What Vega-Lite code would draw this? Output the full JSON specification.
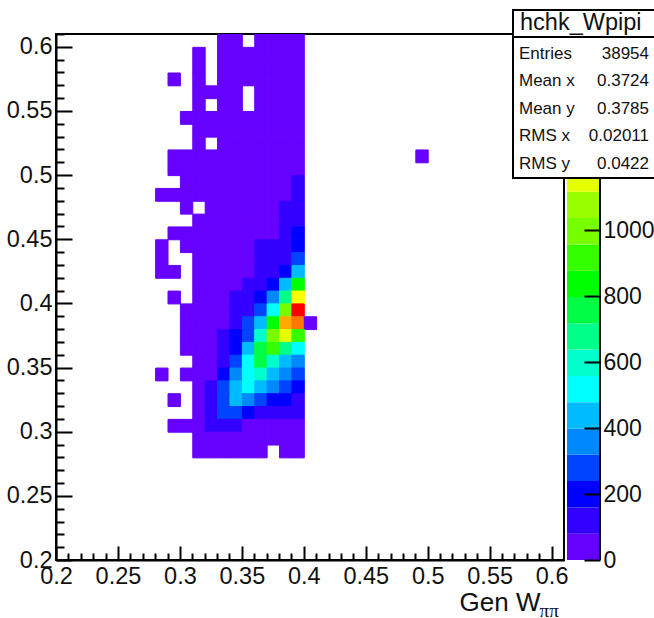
{"$schema":"https://vega.github.io/schema/vega-lite/v6.json","background":"white","padding":{"left":5,"top":9,"right":0,"bottom":0},"bounds":"flush","spacing":3,
"config":{"font":"Liberation Sans","axis":{"grid":false,"labelFont":"Liberation Sans","labelColor":"#111111","titleColor":"#111111"}},
"datasets":{
"cells":[
{"x":0.335,"y":0.605,"z":40},{"x":0.345,"y":0.605,"z":40},{"x":0.365,"y":0.605,"z":40},{"x":0.375,"y":0.605,"z":40},{"x":0.385,"y":0.605,"z":40},{"x":0.395,"y":0.605,"z":40},
{"x":0.315,"y":0.595,"z":40},{"x":0.335,"y":0.595,"z":40},{"x":0.345,"y":0.595,"z":40},{"x":0.355,"y":0.595,"z":40},{"x":0.365,"y":0.595,"z":40},{"x":0.375,"y":0.595,"z":40},{"x":0.385,"y":0.595,"z":40},{"x":0.395,"y":0.595,"z":40},
{"x":0.315,"y":0.585,"z":40},{"x":0.335,"y":0.585,"z":40},{"x":0.345,"y":0.585,"z":40},{"x":0.355,"y":0.585,"z":40},{"x":0.365,"y":0.585,"z":40},{"x":0.375,"y":0.585,"z":40},{"x":0.385,"y":0.585,"z":40},{"x":0.395,"y":0.585,"z":40},
{"x":0.295,"y":0.575,"z":40},{"x":0.315,"y":0.575,"z":40},{"x":0.335,"y":0.575,"z":40},{"x":0.345,"y":0.575,"z":40},{"x":0.355,"y":0.575,"z":40},{"x":0.365,"y":0.575,"z":40},{"x":0.375,"y":0.575,"z":40},{"x":0.385,"y":0.575,"z":40},{"x":0.395,"y":0.575,"z":40},
{"x":0.315,"y":0.565,"z":40},{"x":0.325,"y":0.565,"z":40},{"x":0.335,"y":0.565,"z":40},{"x":0.345,"y":0.565,"z":40},{"x":0.365,"y":0.565,"z":40},{"x":0.375,"y":0.565,"z":40},{"x":0.385,"y":0.565,"z":40},{"x":0.395,"y":0.565,"z":40},
{"x":0.315,"y":0.555,"z":40},{"x":0.335,"y":0.555,"z":40},{"x":0.345,"y":0.555,"z":40},{"x":0.365,"y":0.555,"z":40},{"x":0.375,"y":0.555,"z":40},{"x":0.385,"y":0.555,"z":40},{"x":0.395,"y":0.555,"z":40},
{"x":0.305,"y":0.545,"z":40},{"x":0.315,"y":0.545,"z":40},{"x":0.325,"y":0.545,"z":40},{"x":0.335,"y":0.545,"z":40},{"x":0.345,"y":0.545,"z":40},{"x":0.355,"y":0.545,"z":40},{"x":0.365,"y":0.545,"z":40},{"x":0.375,"y":0.545,"z":40},{"x":0.385,"y":0.545,"z":40},{"x":0.395,"y":0.545,"z":40},
{"x":0.315,"y":0.535,"z":40},{"x":0.325,"y":0.535,"z":40},{"x":0.335,"y":0.535,"z":40},{"x":0.345,"y":0.535,"z":40},{"x":0.355,"y":0.535,"z":40},{"x":0.365,"y":0.535,"z":40},{"x":0.375,"y":0.535,"z":40},{"x":0.385,"y":0.535,"z":40},{"x":0.395,"y":0.535,"z":40},
{"x":0.315,"y":0.525,"z":40},{"x":0.335,"y":0.525,"z":40},{"x":0.345,"y":0.525,"z":40},{"x":0.355,"y":0.525,"z":40},{"x":0.365,"y":0.525,"z":40},{"x":0.375,"y":0.525,"z":40},{"x":0.385,"y":0.525,"z":40},{"x":0.395,"y":0.525,"z":40},
{"x":0.295,"y":0.515,"z":40},{"x":0.305,"y":0.515,"z":40},{"x":0.315,"y":0.515,"z":40},{"x":0.325,"y":0.515,"z":40},{"x":0.335,"y":0.515,"z":40},{"x":0.345,"y":0.515,"z":40},{"x":0.355,"y":0.515,"z":40},{"x":0.365,"y":0.515,"z":40},{"x":0.375,"y":0.515,"z":40},{"x":0.385,"y":0.515,"z":40},{"x":0.395,"y":0.515,"z":40},{"x":0.495,"y":0.515,"z":40},
{"x":0.295,"y":0.505,"z":40},{"x":0.305,"y":0.505,"z":40},{"x":0.315,"y":0.505,"z":40},{"x":0.325,"y":0.505,"z":40},{"x":0.335,"y":0.505,"z":40},{"x":0.345,"y":0.505,"z":40},{"x":0.355,"y":0.505,"z":40},{"x":0.365,"y":0.505,"z":40},{"x":0.375,"y":0.505,"z":40},{"x":0.385,"y":0.505,"z":40},{"x":0.395,"y":0.505,"z":40},
{"x":0.305,"y":0.495,"z":40},{"x":0.315,"y":0.495,"z":40},{"x":0.325,"y":0.495,"z":40},{"x":0.335,"y":0.495,"z":40},{"x":0.345,"y":0.495,"z":40},{"x":0.355,"y":0.495,"z":40},{"x":0.365,"y":0.495,"z":40},{"x":0.375,"y":0.495,"z":40},{"x":0.385,"y":0.495,"z":40},{"x":0.395,"y":0.495,"z":120},
{"x":0.285,"y":0.485,"z":40},{"x":0.295,"y":0.485,"z":40},{"x":0.305,"y":0.485,"z":40},{"x":0.315,"y":0.485,"z":40},{"x":0.325,"y":0.485,"z":40},{"x":0.335,"y":0.485,"z":40},{"x":0.345,"y":0.485,"z":40},{"x":0.355,"y":0.485,"z":40},{"x":0.365,"y":0.485,"z":40},{"x":0.375,"y":0.485,"z":40},{"x":0.385,"y":0.485,"z":40},{"x":0.395,"y":0.485,"z":120},
{"x":0.305,"y":0.475,"z":40},{"x":0.325,"y":0.475,"z":40},{"x":0.335,"y":0.475,"z":40},{"x":0.345,"y":0.475,"z":40},{"x":0.355,"y":0.475,"z":40},{"x":0.365,"y":0.475,"z":40},{"x":0.375,"y":0.475,"z":40},{"x":0.385,"y":0.475,"z":120},{"x":0.395,"y":0.475,"z":120},
{"x":0.315,"y":0.465,"z":40},{"x":0.325,"y":0.465,"z":40},{"x":0.335,"y":0.465,"z":40},{"x":0.345,"y":0.465,"z":40},{"x":0.355,"y":0.465,"z":40},{"x":0.365,"y":0.465,"z":40},{"x":0.375,"y":0.465,"z":40},{"x":0.385,"y":0.465,"z":120},{"x":0.395,"y":0.465,"z":120},
{"x":0.295,"y":0.455,"z":40},{"x":0.305,"y":0.455,"z":40},{"x":0.315,"y":0.455,"z":40},{"x":0.325,"y":0.455,"z":40},{"x":0.335,"y":0.455,"z":40},{"x":0.345,"y":0.455,"z":40},{"x":0.355,"y":0.455,"z":40},{"x":0.365,"y":0.455,"z":40},{"x":0.375,"y":0.455,"z":40},{"x":0.385,"y":0.455,"z":120},{"x":0.395,"y":0.455,"z":199},
{"x":0.285,"y":0.445,"z":40},{"x":0.305,"y":0.445,"z":40},{"x":0.315,"y":0.445,"z":40},{"x":0.325,"y":0.445,"z":40},{"x":0.335,"y":0.445,"z":40},{"x":0.345,"y":0.445,"z":40},{"x":0.355,"y":0.445,"z":40},{"x":0.365,"y":0.445,"z":120},{"x":0.375,"y":0.445,"z":120},{"x":0.385,"y":0.445,"z":120},{"x":0.395,"y":0.445,"z":199},
{"x":0.285,"y":0.435,"z":40},{"x":0.315,"y":0.435,"z":40},{"x":0.325,"y":0.435,"z":40},{"x":0.335,"y":0.435,"z":40},{"x":0.345,"y":0.435,"z":40},{"x":0.355,"y":0.435,"z":40},{"x":0.365,"y":0.435,"z":120},{"x":0.375,"y":0.435,"z":120},{"x":0.385,"y":0.435,"z":120},{"x":0.395,"y":0.435,"z":279},
{"x":0.285,"y":0.425,"z":40},{"x":0.295,"y":0.425,"z":40},{"x":0.315,"y":0.425,"z":40},{"x":0.325,"y":0.425,"z":40},{"x":0.335,"y":0.425,"z":40},{"x":0.345,"y":0.425,"z":40},{"x":0.355,"y":0.425,"z":40},{"x":0.365,"y":0.425,"z":120},{"x":0.375,"y":0.425,"z":120},{"x":0.385,"y":0.425,"z":199},{"x":0.395,"y":0.425,"z":438},
{"x":0.315,"y":0.415,"z":40},{"x":0.325,"y":0.415,"z":40},{"x":0.335,"y":0.415,"z":40},{"x":0.345,"y":0.415,"z":40},{"x":0.355,"y":0.415,"z":120},{"x":0.365,"y":0.415,"z":120},{"x":0.375,"y":0.415,"z":199},{"x":0.385,"y":0.415,"z":438},{"x":0.395,"y":0.415,"z":837},
{"x":0.295,"y":0.405,"z":40},{"x":0.315,"y":0.405,"z":40},{"x":0.325,"y":0.405,"z":40},{"x":0.335,"y":0.405,"z":40},{"x":0.345,"y":0.405,"z":120},{"x":0.355,"y":0.405,"z":120},{"x":0.365,"y":0.405,"z":199},{"x":0.375,"y":0.405,"z":359},{"x":0.385,"y":0.405,"z":677},{"x":0.395,"y":0.405,"z":1235},
{"x":0.305,"y":0.395,"z":40},{"x":0.315,"y":0.395,"z":40},{"x":0.325,"y":0.395,"z":40},{"x":0.335,"y":0.395,"z":40},{"x":0.345,"y":0.395,"z":120},{"x":0.355,"y":0.395,"z":120},{"x":0.365,"y":0.395,"z":279},{"x":0.375,"y":0.395,"z":518},{"x":0.385,"y":0.395,"z":996},{"x":0.395,"y":0.395,"z":1518},
{"x":0.305,"y":0.385,"z":40},{"x":0.315,"y":0.385,"z":40},{"x":0.325,"y":0.385,"z":40},{"x":0.335,"y":0.385,"z":40},{"x":0.345,"y":0.385,"z":120},{"x":0.355,"y":0.385,"z":279},{"x":0.365,"y":0.385,"z":438},{"x":0.375,"y":0.385,"z":837},{"x":0.385,"y":0.385,"z":1315},{"x":0.395,"y":0.385,"z":1395},{"x":0.405,"y":0.385,"z":40},
{"x":0.305,"y":0.375,"z":40},{"x":0.315,"y":0.375,"z":40},{"x":0.325,"y":0.375,"z":40},{"x":0.335,"y":0.375,"z":120},{"x":0.345,"y":0.375,"z":199},{"x":0.355,"y":0.375,"z":279},{"x":0.365,"y":0.375,"z":598},{"x":0.375,"y":0.375,"z":996},{"x":0.385,"y":0.375,"z":1156},{"x":0.395,"y":0.375,"z":917},
{"x":0.305,"y":0.365,"z":40},{"x":0.315,"y":0.365,"z":40},{"x":0.325,"y":0.365,"z":40},{"x":0.335,"y":0.365,"z":120},{"x":0.345,"y":0.365,"z":199},{"x":0.355,"y":0.365,"z":438},{"x":0.365,"y":0.365,"z":757},{"x":0.375,"y":0.365,"z":917},{"x":0.385,"y":0.365,"z":677},{"x":0.395,"y":0.365,"z":518},
{"x":0.315,"y":0.355,"z":40},{"x":0.325,"y":0.355,"z":40},{"x":0.335,"y":0.355,"z":120},{"x":0.345,"y":0.355,"z":279},{"x":0.355,"y":0.355,"z":518},{"x":0.365,"y":0.355,"z":757},{"x":0.375,"y":0.355,"z":598},{"x":0.385,"y":0.355,"z":438},{"x":0.395,"y":0.355,"z":359},
{"x":0.285,"y":0.345,"z":40},{"x":0.305,"y":0.345,"z":40},{"x":0.315,"y":0.345,"z":40},{"x":0.325,"y":0.345,"z":40},{"x":0.335,"y":0.345,"z":199},{"x":0.345,"y":0.345,"z":359},{"x":0.355,"y":0.345,"z":518},{"x":0.365,"y":0.345,"z":598},{"x":0.375,"y":0.345,"z":438},{"x":0.385,"y":0.345,"z":359},{"x":0.395,"y":0.345,"z":279},
{"x":0.315,"y":0.335,"z":40},{"x":0.325,"y":0.335,"z":120},{"x":0.335,"y":0.335,"z":279},{"x":0.345,"y":0.335,"z":438},{"x":0.355,"y":0.335,"z":518},{"x":0.365,"y":0.335,"z":438},{"x":0.375,"y":0.335,"z":359},{"x":0.385,"y":0.335,"z":279},{"x":0.395,"y":0.335,"z":199},
{"x":0.295,"y":0.325,"z":40},{"x":0.315,"y":0.325,"z":40},{"x":0.325,"y":0.325,"z":120},{"x":0.335,"y":0.325,"z":279},{"x":0.345,"y":0.325,"z":438},{"x":0.355,"y":0.325,"z":359},{"x":0.365,"y":0.325,"z":279},{"x":0.375,"y":0.325,"z":199},{"x":0.385,"y":0.325,"z":199},{"x":0.395,"y":0.325,"z":120},
{"x":0.315,"y":0.315,"z":40},{"x":0.325,"y":0.315,"z":120},{"x":0.335,"y":0.315,"z":279},{"x":0.345,"y":0.315,"z":279},{"x":0.355,"y":0.315,"z":199},{"x":0.365,"y":0.315,"z":120},{"x":0.375,"y":0.315,"z":120},{"x":0.385,"y":0.315,"z":120},{"x":0.395,"y":0.315,"z":120},
{"x":0.295,"y":0.305,"z":40},{"x":0.305,"y":0.305,"z":40},{"x":0.315,"y":0.305,"z":40},{"x":0.325,"y":0.305,"z":120},{"x":0.335,"y":0.305,"z":120},{"x":0.345,"y":0.305,"z":120},{"x":0.355,"y":0.305,"z":40},{"x":0.365,"y":0.305,"z":40},{"x":0.375,"y":0.305,"z":40},{"x":0.385,"y":0.305,"z":40},{"x":0.395,"y":0.305,"z":40},
{"x":0.315,"y":0.295,"z":40},{"x":0.325,"y":0.295,"z":40},{"x":0.335,"y":0.295,"z":40},{"x":0.345,"y":0.295,"z":40},{"x":0.355,"y":0.295,"z":40},{"x":0.365,"y":0.295,"z":40},{"x":0.375,"y":0.295,"z":40},{"x":0.385,"y":0.295,"z":40},{"x":0.395,"y":0.295,"z":40},
{"x":0.315,"y":0.285,"z":40},{"x":0.325,"y":0.285,"z":40},{"x":0.335,"y":0.285,"z":40},{"x":0.345,"y":0.285,"z":40},{"x":0.355,"y":0.285,"z":40},{"x":0.365,"y":0.285,"z":40},{"x":0.385,"y":0.285,"z":40},{"x":0.395,"y":0.285,"z":40}
],
"levels":[{"lo":0,"hi":79.7,"z":40},{"lo":79.7,"hi":159.4,"z":120},{"lo":159.4,"hi":239.1,"z":199},{"lo":239.1,"hi":318.8,"z":279},{"lo":318.8,"hi":398.5,"z":359},{"lo":398.5,"hi":478.2,"z":438},{"lo":478.2,"hi":557.9,"z":518},{"lo":557.9,"hi":637.6,"z":598},{"lo":637.6,"hi":717.3,"z":677},{"lo":717.3,"hi":797,"z":757},{"lo":797,"hi":876.7,"z":837},{"lo":876.7,"hi":956.4,"z":917},{"lo":956.4,"hi":1036.1,"z":996},{"lo":1036.1,"hi":1115.8,"z":1076},{"lo":1115.8,"hi":1195.5,"z":1156},{"lo":1195.5,"hi":1275.2,"z":1235},{"lo":1275.2,"hi":1354.9,"z":1315},{"lo":1354.9,"hi":1434.6,"z":1395},{"lo":1434.6,"hi":1514.3,"z":1474},{"lo":1514.3,"hi":1594,"z":1518}],
"stats":[{"stat":"Entries","value":"38954"},{"stat":"Mean x","value":"0.3724"},{"stat":"Mean y","value":"0.3785"},{"stat":"RMS x","value":"0.02011"},{"stat":"RMS y","value":"0.0422"}]
},
"hconcat":[
{"width":508,"height":526,"view":{"stroke":"black","strokeWidth":2,"fill":"white"},"resolve":{"axis":{"x":"independent","y":"independent"}},
"layer":[
{"data":{"name":"cells"},"mark":{"type":"rect","strokeWidth":1},
"encoding":{
"x":{"field":"x","type":"quantitative","bin":{"step":0.01,"extent":[0.2,0.61]},"scale":{"domain":[0.2,0.61]},
"axis":{"orient":"bottom","values":[0.2,0.25,0.3,0.35,0.4,0.45,0.5,0.55,0.6],"format":".2~f","tickSize":-14,"tickWidth":2,"tickColor":"black","domainColor":"black","domainWidth":2,"labelFontSize":23.5,"labelPadding":18,"labelOverlap":false,"labelFlush":false,"labelBound":false,"title":"Gen W","titleFontSize":26,"titleFontWeight":"normal","titleFont":"Liberation Sans","titleAnchor":"end","titleAlign":"right","titleBaseline":"alphabetic","titleX":484,"titleY":50}},
"y":{"field":"y","type":"quantitative","bin":{"step":0.01,"extent":[0.2,0.61]},"scale":{"domain":[0.2,0.61]},
"axis":{"orient":"left","values":[0.2,0.25,0.3,0.35,0.4,0.45,0.5,0.55,0.6],"format":".2~f","tickSize":-16,"tickWidth":2,"tickColor":"black","domainColor":"black","domainWidth":2,"labelFontSize":23.5,"labelPadding":20,"labelOverlap":false,"labelFlush":false,"labelBound":false,"title":null}},
"fill":{"field":"z","type":"quantitative","legend":null,"scale":{"type":"threshold","domain":[79.7,159.4,239.1,318.8,398.5,478.2,557.9,637.6,717.3,797,876.7,956.4,1036.1,1115.8,1195.5,1275.2,1354.9,1434.6,1514.3],"range":["#6600ff","#3300ff","#0000ff","#0044ff","#0088ff","#00bbff","#00ffff","#00ffcc","#00ff88","#00ff44","#00ff00","#33ff00","#77ff00","#99ff00","#e6ff00","#ffff00","#ffaa00","#ff7700","#ff3300","#ff0000"]}},
"stroke":{"field":"z","type":"quantitative","legend":null,"scale":{"type":"threshold","domain":[79.7,159.4,239.1,318.8,398.5,478.2,557.9,637.6,717.3,797,876.7,956.4,1036.1,1115.8,1195.5,1275.2,1354.9,1434.6,1514.3],"range":["#6600ff","#3300ff","#0000ff","#0044ff","#0088ff","#00bbff","#00ffff","#00ffcc","#00ff88","#00ff44","#00ff00","#33ff00","#77ff00","#99ff00","#e6ff00","#ffff00","#ffaa00","#ff7700","#ff3300","#ff0000"]}},
"opacity":{"value":1}
}},
{"data":{"values":[{"t":"ππ"}]},"mark":{"type":"text","font":"Liberation Serif","fontSize":19,"align":"left","baseline":"alphabetic","color":"#111111","clip":false},
"encoding":{"text":{"field":"t"},
"x":{"datum":0.5903,"type":"quantitative","scale":{"domain":[0.2,0.61]},"axis":{"orient":"bottom","values":[0.21,0.22,0.23,0.24,0.26,0.27,0.28,0.29,0.31,0.32,0.33,0.34,0.36,0.37,0.38,0.39,0.41,0.42,0.43,0.44,0.46,0.47,0.48,0.49,0.51,0.52,0.53,0.54,0.56,0.57,0.58,0.59],"labels":false,"domain":false,"tickSize":-7,"tickWidth":2,"tickColor":"black","title":null}},
"y":{"datum":0.1555,"type":"quantitative","scale":{"domain":[0.2,0.61]},"axis":{"orient":"left","values":[0.21,0.22,0.23,0.24,0.26,0.27,0.28,0.29,0.31,0.32,0.33,0.34,0.36,0.37,0.38,0.39,0.41,0.42,0.43,0.44,0.46,0.47,0.48,0.49,0.51,0.52,0.53,0.54,0.56,0.57,0.58,0.59,0.61],"labels":false,"domain":false,"tickSize":-8,"tickWidth":2,"tickColor":"black","title":null}}
}}
]},
{"width":33,"height":526,"view":{"stroke":null},"resolve":{"scale":{"x":"independent","y":"independent"}},
"layer":[
{"data":{"name":"levels"},"mark":{"type":"rect","stroke":null},
"encoding":{
"y":{"field":"lo","type":"quantitative","scale":{"domain":[0,1594],"nice":false},"axis":{"orient":"right","values":[0,200,400,600,800,1000],"format":"d","domain":false,"zindex":1,"tickSize":-16,"tickWidth":2,"tickColor":"black","labelFontSize":23,"labelPadding":19,"labelOverlap":false,"labelFlush":false,"labelBound":false,"title":null}},
"y2":{"field":"hi"},
"color":{"field":"z","type":"quantitative","legend":null,"scale":{"type":"threshold","domain":[79.7,159.4,239.1,318.8,398.5,478.2,557.9,637.6,717.3,797,876.7,956.4,1036.1,1115.8,1195.5,1275.2,1354.9,1434.6,1514.3],"range":["#6600ff","#3300ff","#0000ff","#0044ff","#0088ff","#00bbff","#00ffff","#00ffcc","#00ff88","#00ff44","#00ff00","#33ff00","#77ff00","#99ff00","#e6ff00","#ffff00","#ffaa00","#ff7700","#ff3300","#ff0000"]}},
"opacity":{"value":1}
}},
{"data":{"values":[{}]},"mark":{"type":"rule","color":"black","strokeWidth":2},
"encoding":{"x":{"datum":1,"type":"quantitative","scale":{"domain":[0,1],"range":[33,33]},"axis":null},"y":{"datum":0,"type":"quantitative","scale":{"domain":[0,1],"range":[526,0]},"axis":null},"y2":{"datum":1}}},
{"data":{"values":[{}]},"mark":{"type":"rect","fill":"white","stroke":"black","strokeWidth":2,"clip":false},
"encoding":{"x":{"datum":0,"type":"quantitative","scale":{"domain":[0,144],"range":[-54,90]},"axis":null},"x2":{"datum":144},"y":{"datum":0,"type":"quantitative","scale":{"domain":[0,168],"range":[-24,144]},"axis":null},"y2":{"datum":168}}},
{"data":{"values":[{}]},"mark":{"type":"rect","fill":"white","stroke":"black","strokeWidth":2,"clip":false},
"encoding":{"x":{"datum":0,"type":"quantitative","scale":{"domain":[0,144],"range":[-54,90]},"axis":null},"x2":{"datum":144},"y":{"datum":0,"type":"quantitative","scale":{"domain":[0,168],"range":[-24,144]},"axis":null},"y2":{"datum":27}}},
{"data":{"values":[{"t":"hchk_Wpipi"}]},"mark":{"type":"text","fontSize":23.5,"align":"left","baseline":"middle","color":"#111111"},
"encoding":{"text":{"field":"t"},"x":{"datum":7,"type":"quantitative","scale":{"domain":[0,144],"range":[-54,90]},"axis":null},"y":{"datum":13,"type":"quantitative","scale":{"domain":[0,168],"range":[-24,144]},"axis":null}}},
{"data":{"name":"stats"},"mark":{"type":"text","fontSize":17,"align":"left","baseline":"middle","color":"#111111"},
"encoding":{"text":{"field":"stat"},"x":{"datum":6,"type":"quantitative","scale":{"domain":[0,144],"range":[-54,90]},"axis":null},"y":{"field":"stat","type":"nominal","sort":null,"scale":{"domain":["Entries","Mean x","Mean y","RMS x","RMS y"],"type":"point","padding":0,"range":[19.5,129.5]},"axis":null}}},
{"data":{"name":"stats"},"mark":{"type":"text","fontSize":17,"align":"right","baseline":"middle","color":"#111111"},
"encoding":{"text":{"field":"value"},"x":{"datum":136,"type":"quantitative","scale":{"domain":[0,144],"range":[-54,90]},"axis":null},"y":{"field":"stat","type":"nominal","sort":null,"scale":{"domain":["Entries","Mean x","Mean y","RMS x","RMS y"],"type":"point","padding":0,"range":[19.5,129.5]},"axis":null}}}
]}
]}
